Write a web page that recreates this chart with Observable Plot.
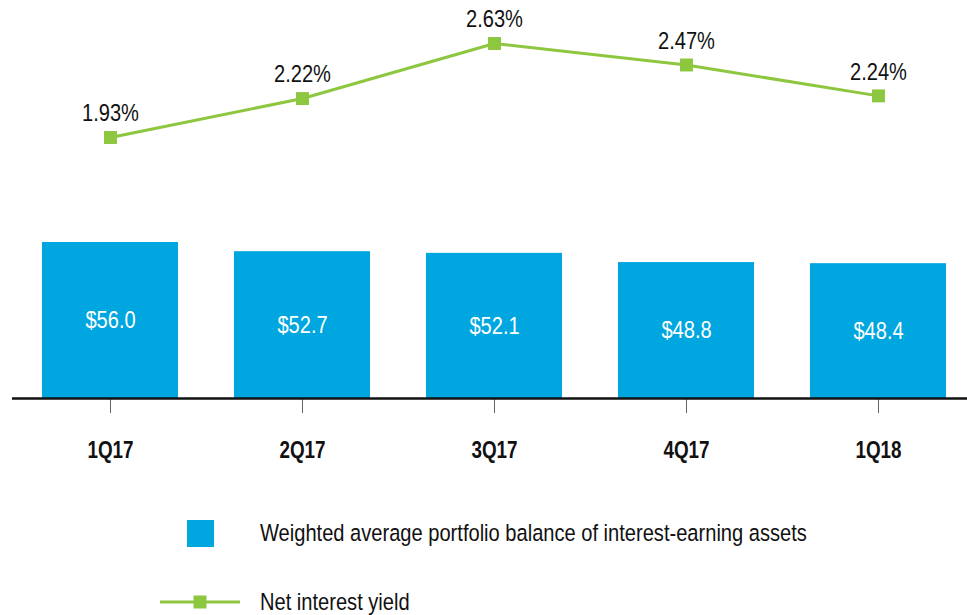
<!DOCTYPE html>
<html>
<head>
<meta charset="utf-8">
<script src="https://cdn.jsdelivr.net/npm/d3@7"></script>
<script src="https://cdn.jsdelivr.net/npm/@observablehq/plot@0.6"></script>
<style>
  html, body { margin: 0; padding: 0; background: #fff; }
  #wrap { position: relative; width: 967px; height: 615px; overflow: hidden;
          font-family: "Liberation Sans", Arial, sans-serif; }
  #wrap > div.layer { position: absolute; left: 0; top: 0; }
  .legend-item { position: absolute; display: flex; align-items: center; font-size: 24.5px; line-height: 1; color: #111; white-space: nowrap; }
  .narrow { display: inline-block; transform: scaleX(0.82); transform-origin: left center; }
</style>
</head>
<body>
<div id="wrap">
  <div class="layer" id="bars"></div>
  <div class="layer" id="line"></div>
  <div class="legend-item" style="left:187px; top:520px; height:27px;">
    <span style="display:inline-block;width:27px;height:27px;background:#00a6e0;"></span>
    <span class="narrow" style="margin-left:46px;">Weighted average portfolio balance of interest-earning assets</span>
  </div>
  <div class="legend-item" style="left:160px; top:589px; height:26px;">
    <svg width="80" height="26"><line x1="0" x2="80" y1="13" y2="13" stroke="#8dc63f" stroke-width="3"/><rect x="33.5" y="6.5" width="13" height="13" fill="#8dc63f"/></svg>
    <span class="narrow" style="margin-left:20px;">Net interest yield</span>
  </div>
</div>
<script>
const quarters = ["1Q17", "2Q17", "3Q17", "4Q17", "1Q18"];
const balances = [56.0, 52.7, 52.1, 48.8, 48.4];
const yields = [1.93, 2.22, 2.63, 2.47, 2.24];

const data = quarters.map((q, i) => ({q, balance: balances[i], yld: yields[i]}));
const FONT = '"Liberation Sans", Arial, sans-serif';
const BLUE = "#00a6e0", GREEN = "#8dc63f";

const xScale = {type: "band", domain: quarters, range: [42, 946], paddingInner: 0.292, paddingOuter: 0};

function narrow(svg) {
  d3.select(svg).selectAll("text").each(function () {
    const t = this.getAttribute("transform") || "";
    this.setAttribute("transform", (t + " scale(0.82,1)").trim());
  });
  return svg;
}

const bars = Plot.plot({
  width: 967, height: 480,
  marginLeft: 12, marginRight: 0, marginTop: 0, marginBottom: 0,
  style: {fontFamily: FONT, background: "transparent"},
  x: {...xScale, label: null},
  y: {domain: [0, 56], range: [398, 242], axis: null},
  marks: [
    Plot.barY(data, {x: "q", y: "balance", fill: BLUE}),
    Plot.text(data, {x: "q", y: d => d.balance / 2, text: d => "$" + d.balance.toFixed(1), fill: "#fff", fontSize: 24.5}),
    Plot.axisX({tickSize: 15, tickPadding: 28, fontSize: 23, fontWeight: "bold", stroke: "#666", strokeWidth: 1, color: "#111", label: null, y: 0}),
    Plot.ruleY([0], {stroke: "#111", strokeWidth: 2.5})
  ]
});
document.getElementById("bars").append(narrow(bars));

const line = Plot.plot({
  width: 967, height: 200,
  marginLeft: 12, marginRight: 0, marginTop: 0, marginBottom: 0,
  style: {fontFamily: FONT, background: "transparent"},
  x: {...xScale, axis: null},
  y: {domain: [1.93, 2.63], range: [137, 43], axis: null},
  marks: [
    Plot.line(data, {x: "q", y: "yld", stroke: GREEN, strokeWidth: 3}),
    Plot.dot(data, {x: "q", y: "yld", symbol: "square", r: 7.3, fill: GREEN, stroke: "none"}),
    Plot.text(data, {x: "q", y: "yld", text: d => d.yld.toFixed(2) + "%", dy: -24, fontSize: 24.5, fill: "#111"})
  ]
});
document.getElementById("line").append(narrow(line));
</script>
</body>
</html>
